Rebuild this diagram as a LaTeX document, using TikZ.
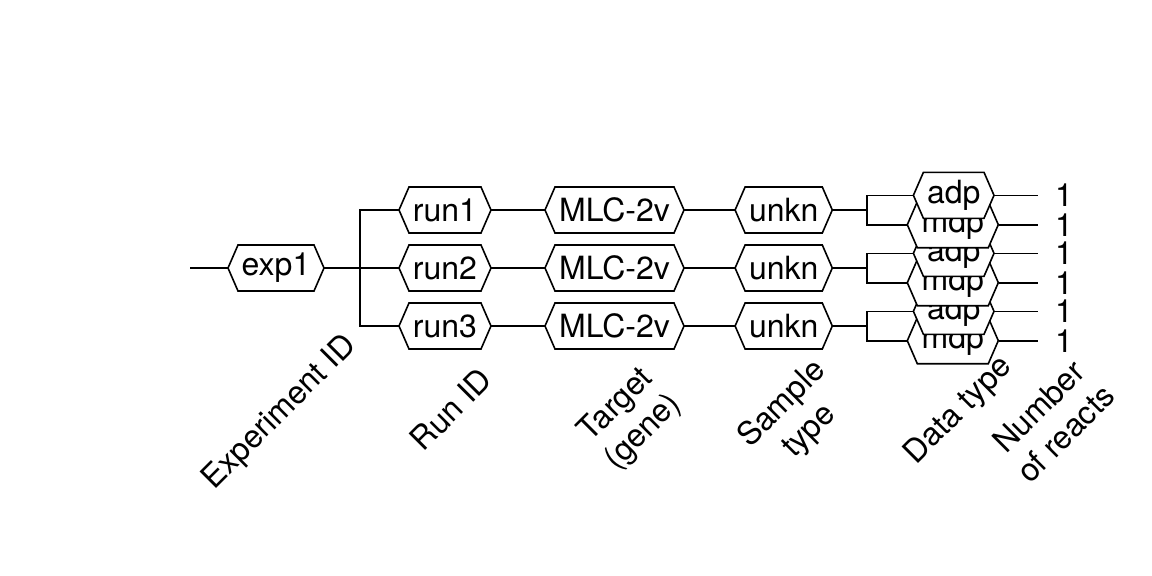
\documentclass[tikz,border=0pt]{standalone}
\usepackage{fontspec}
\setmainfont{TeX Gyre Heros}
\pgfdeclarelayer{background}
\pgfsetlayers{background,main}
\tikzset{
  conn/.style={line width=1.6pt},
  hexshape/.style={fill=white, draw=black, line width=1.6pt, line join=miter},
  hextext/.style={inner sep=0pt, minimum height=46pt, font=\fontsize{32}{38}\selectfont},
  numlbl/.style={inner xsep=17pt, inner ysep=0pt, anchor=west, font=\fontsize{32}{38}\selectfont},
  axlbl/.style={rotate=45, align=center, inner sep=0pt, font=\fontsize{32}{38}\selectfont}
}
\newcommand{\hexbox}[5]{%
  \path[hexshape] (#2-#4,#3) -- (#2-#4+10,#3-23) -- (#2+#4-10,#3-23) -- (#2+#4,#3)
     -- (#2+#4-10,#3+23) -- (#2-#4+10,#3+23) -- cycle;
  \node[hextext, minimum width=2*#4] (#1) at (#2,#3) {#5};
}
\begin{document}
\begin{tikzpicture}[x=1pt,y=-1pt]
\useasboundingbox (0,0) rectangle (1152,576);
\coordinate (start) at (190,268);
\coordinate (j0) at (360,268);
\coordinate (j1) at (866.7,210);
\coordinate (j2) at (866.7,268);
\coordinate (j3) at (866.7,326);
% hexagon nodes
\hexbox{exp1}{276}{268}{48}{exp1}
\hexbox{run1}{445}{210}{46}{run1}
\hexbox{run2}{445}{268}{46}{run2}
\hexbox{run3}{445}{326}{46}{run3}
\hexbox{mlc1}{614.5}{210}{69.5}{MLC-2v}
\hexbox{mlc2}{614.5}{268}{69.5}{MLC-2v}
\hexbox{mlc3}{614.5}{326}{69.5}{MLC-2v}
\hexbox{unk1}{783.7}{210}{48.6}{unkn}
\hexbox{unk2}{783.7}{268}{48.6}{unkn}
\hexbox{unk3}{783.7}{326}{48.6}{unkn}
% data type hexes, drawn last-first
\hexbox{mdp3}{952.8}{340.7}{45.5}{mdp}
\hexbox{adp3}{953.7}{311.3}{40.3}{adp}
\hexbox{mdp2}{952.8}{282.7}{45.5}{mdp}
\hexbox{adp2}{953.7}{253.3}{40.3}{adp}
\hexbox{mdp1}{952.8}{224.7}{45.5}{mdp}
\hexbox{adp1}{953.7}{195.3}{40.3}{adp}
% number labels
\node[numlbl] (n1) at (1038,195.3) {1};
\node[numlbl] (n2) at (1038,224.7) {1};
\node[numlbl] (n3) at (1038,253.3) {1};
\node[numlbl] (n4) at (1038,282.7) {1};
\node[numlbl] (n5) at (1038,311.3) {1};
\node[numlbl] (n6) at (1038,340.7) {1};
% connectors behind
\begin{pgfonlayer}{background}
\begin{scope}[conn]
\draw (start) -- (exp1.west);
\draw (exp1.east) -- (j0);
\draw (j0) |- (run1.west);
\draw (j0) -- (run2.west);
\draw (j0) |- (run3.west);
\draw (run1.east) -- (mlc1.west);
\draw (run2.east) -- (mlc2.west);
\draw (run3.east) -- (mlc3.west);
\draw (mlc1.east) -- (unk1.west);
\draw (mlc2.east) -- (unk2.west);
\draw (mlc3.east) -- (unk3.west);
\draw (unk1.east) -- (j1);
\draw (unk2.east) -- (j2);
\draw (unk3.east) -- (j3);
\draw (j1) |- (adp1.west);
\draw (j1) |- (mdp1.west);
\draw (j2) |- (adp2.west);
\draw (j2) |- (mdp2.west);
\draw (j3) |- (adp3.west);
\draw (j3) |- (mdp3.west);
\draw (adp1.east) -- (n1.west);
\draw (mdp1.east) -- (n2.west);
\draw (adp2.east) -- (n3.west);
\draw (mdp2.east) -- (n4.west);
\draw (adp3.east) -- (n5.west);
\draw (mdp3.east) -- (n6.west);
\end{scope}
\end{pgfonlayer}
% axis labels
\node[axlbl] (l1) at (280,413) {Experiment ID};
\node[axlbl] (l2) at (451,409) {Run ID};
\node[axlbl] (l3) at (630,419) {Target\\(gene)};
\node[axlbl] (l4) at (796,418) {Sample\\type};
\node[axlbl] (l5) at (959,411) {Data type};
\node[axlbl] (l6) at (1052,420) {Number\\of reacts};
\end{tikzpicture}
\end{document}
